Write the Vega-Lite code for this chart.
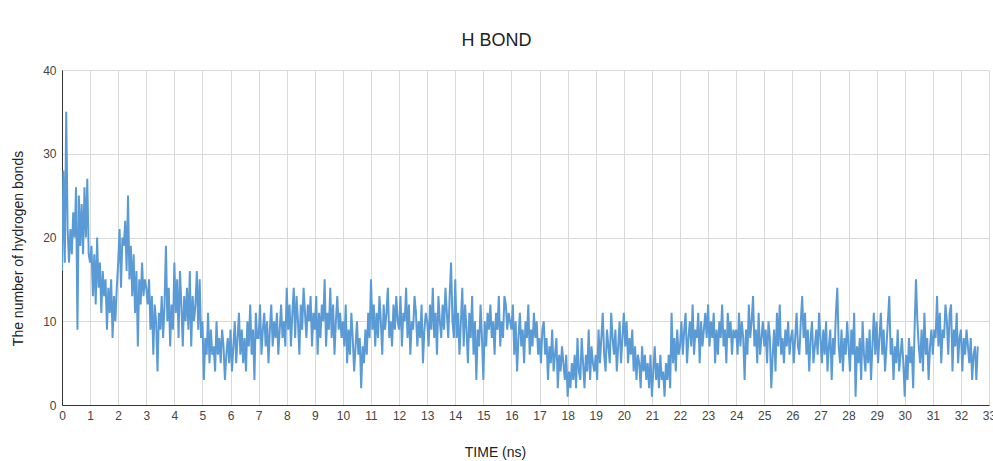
{
"$schema": "https://vega.github.io/schema/vega-lite/v6.json",
"width": 927,
"height": 335,
"autosize": "none",
"padding": {"left": 62, "top": 70, "right": 4, "bottom": 56},
"background": "white",
"title": {"text": "H BOND", "fontSize": 18, "font": "Liberation Sans", "fontWeight": "normal", "color": "#222222", "dx": -29, "offset": 14},
"config": {"view": {"stroke": null}, "font": "Liberation Sans"},
"data": {"values": [
{"t":0,"h":16},{"t":0.05,"h":28},{"t":0.1,"h":17},{"t":0.15,"h":35},{"t":0.2,"h":21},{"t":0.25,"h":17},{"t":0.3,"h":21},{"t":0.35,"h":18},{"t":0.4,"h":23},{"t":0.45,"h":20},{"t":0.5,"h":26},{"t":0.55,"h":9},{"t":0.6,"h":25},{"t":0.65,"h":19},{"t":0.7,"h":24},{"t":0.75,"h":18},{"t":0.8,"h":26},{"t":0.85,"h":20},{"t":0.9,"h":27},{"t":0.95,"h":18},
{"t":1,"h":17},{"t":1.05,"h":19},{"t":1.1,"h":13},{"t":1.15,"h":18},{"t":1.2,"h":12},{"t":1.25,"h":20},{"t":1.3,"h":14},{"t":1.35,"h":17},{"t":1.4,"h":11},{"t":1.45,"h":16},{"t":1.5,"h":13},{"t":1.55,"h":15},{"t":1.6,"h":9},{"t":1.65,"h":14},{"t":1.7,"h":11},{"t":1.75,"h":15},{"t":1.8,"h":8},{"t":1.85,"h":13},{"t":1.9,"h":10},{"t":1.95,"h":14},
{"t":2,"h":17},{"t":2.05,"h":21},{"t":2.1,"h":14},{"t":2.15,"h":20},{"t":2.2,"h":19},{"t":2.25,"h":22},{"t":2.3,"h":16},{"t":2.35,"h":25},{"t":2.4,"h":15},{"t":2.45,"h":19},{"t":2.5,"h":13},{"t":2.55,"h":18},{"t":2.6,"h":11},{"t":2.65,"h":16},{"t":2.7,"h":7},{"t":2.75,"h":15},{"t":2.8,"h":12},{"t":2.85,"h":17},{"t":2.9,"h":13},{"t":2.95,"h":15},
{"t":3,"h":14},{"t":3.05,"h":12},{"t":3.1,"h":15},{"t":3.15,"h":9},{"t":3.2,"h":13},{"t":3.25,"h":6},{"t":3.3,"h":12},{"t":3.35,"h":10},{"t":3.4,"h":4},{"t":3.45,"h":11},{"t":3.5,"h":9},{"t":3.55,"h":13},{"t":3.6,"h":8},{"t":3.65,"h":12},{"t":3.7,"h":19},{"t":3.75,"h":10},{"t":3.8,"h":14},{"t":3.85,"h":7},{"t":3.9,"h":12},{"t":3.95,"h":9},
{"t":4,"h":17},{"t":4.05,"h":11},{"t":4.1,"h":15},{"t":4.15,"h":8},{"t":4.2,"h":16},{"t":4.25,"h":12},{"t":4.3,"h":7},{"t":4.35,"h":13},{"t":4.4,"h":10},{"t":4.45,"h":14},{"t":4.5,"h":9},{"t":4.55,"h":16},{"t":4.6,"h":7},{"t":4.65,"h":13},{"t":4.7,"h":10},{"t":4.75,"h":12},{"t":4.8,"h":16},{"t":4.85,"h":9},{"t":4.9,"h":15},{"t":4.95,"h":8},
{"t":5,"h":10},{"t":5.05,"h":3},{"t":5.1,"h":8},{"t":5.15,"h":6},{"t":5.2,"h":11},{"t":5.25,"h":5},{"t":5.3,"h":9},{"t":5.35,"h":6},{"t":5.4,"h":7},{"t":5.45,"h":4},{"t":5.5,"h":10},{"t":5.55,"h":6},{"t":5.6,"h":8},{"t":5.65,"h":5},{"t":5.7,"h":9},{"t":5.75,"h":7},{"t":5.8,"h":3},{"t":5.85,"h":6},{"t":5.9,"h":8},{"t":5.95,"h":5},
{"t":6,"h":9},{"t":6.05,"h":4},{"t":6.1,"h":7},{"t":6.15,"h":10},{"t":6.2,"h":5},{"t":6.25,"h":8},{"t":6.3,"h":11},{"t":6.35,"h":6},{"t":6.4,"h":9},{"t":6.45,"h":5},{"t":6.5,"h":8},{"t":6.55,"h":4},{"t":6.6,"h":10},{"t":6.65,"h":7},{"t":6.7,"h":12},{"t":6.75,"h":6},{"t":6.8,"h":9},{"t":6.85,"h":3},{"t":6.9,"h":11},{"t":6.95,"h":8},
{"t":7,"h":8},{"t":7.05,"h":12},{"t":7.1,"h":6},{"t":7.15,"h":9},{"t":7.2,"h":11},{"t":7.25,"h":7},{"t":7.3,"h":10},{"t":7.35,"h":5},{"t":7.4,"h":9},{"t":7.45,"h":12},{"t":7.5,"h":7},{"t":7.55,"h":10},{"t":7.6,"h":8},{"t":7.65,"h":11},{"t":7.7,"h":6},{"t":7.75,"h":9},{"t":7.8,"h":12},{"t":7.85,"h":8},{"t":7.9,"h":10},{"t":7.95,"h":7},
{"t":8,"h":14},{"t":8.05,"h":9},{"t":8.1,"h":12},{"t":8.15,"h":7},{"t":8.2,"h":11},{"t":8.25,"h":14},{"t":8.3,"h":8},{"t":8.35,"h":13},{"t":8.4,"h":10},{"t":8.45,"h":6},{"t":8.5,"h":12},{"t":8.55,"h":9},{"t":8.6,"h":14},{"t":8.65,"h":11},{"t":8.7,"h":8},{"t":8.75,"h":12},{"t":8.8,"h":10},{"t":8.85,"h":13},{"t":8.9,"h":7},{"t":8.95,"h":11},
{"t":9,"h":9},{"t":9.05,"h":13},{"t":9.1,"h":6},{"t":9.15,"h":11},{"t":9.2,"h":8},{"t":9.25,"h":12},{"t":9.3,"h":10},{"t":9.35,"h":15},{"t":9.4,"h":7},{"t":9.45,"h":11},{"t":9.5,"h":9},{"t":9.55,"h":14},{"t":9.6,"h":8},{"t":9.65,"h":12},{"t":9.7,"h":6},{"t":9.75,"h":10},{"t":9.8,"h":13},{"t":9.85,"h":9},{"t":9.9,"h":11},{"t":9.95,"h":8},
{"t":10,"h":10},{"t":10.05,"h":7},{"t":10.1,"h":12},{"t":10.15,"h":5},{"t":10.2,"h":9},{"t":10.25,"h":6},{"t":10.3,"h":11},{"t":10.35,"h":8},{"t":10.4,"h":4},{"t":10.45,"h":7},{"t":10.5,"h":10},{"t":10.55,"h":6},{"t":10.6,"h":8},{"t":10.65,"h":2},{"t":10.7,"h":7},{"t":10.75,"h":5},{"t":10.8,"h":9},{"t":10.85,"h":6},{"t":10.9,"h":11},{"t":10.95,"h":8},
{"t":11,"h":15},{"t":11.05,"h":9},{"t":11.1,"h":12},{"t":11.15,"h":7},{"t":11.2,"h":11},{"t":11.25,"h":8},{"t":11.3,"h":13},{"t":11.35,"h":10},{"t":11.4,"h":6},{"t":11.45,"h":12},{"t":11.5,"h":9},{"t":11.55,"h":11},{"t":11.6,"h":14},{"t":11.65,"h":8},{"t":11.7,"h":10},{"t":11.75,"h":7},{"t":11.8,"h":12},{"t":11.85,"h":9},{"t":11.9,"h":13},{"t":11.95,"h":10},
{"t":12,"h":9},{"t":12.05,"h":13},{"t":12.1,"h":7},{"t":12.15,"h":11},{"t":12.2,"h":10},{"t":12.25,"h":14},{"t":12.3,"h":8},{"t":12.35,"h":12},{"t":12.4,"h":6},{"t":12.45,"h":10},{"t":12.5,"h":9},{"t":12.55,"h":13},{"t":12.6,"h":11},{"t":12.65,"h":7},{"t":12.7,"h":10},{"t":12.75,"h":8},{"t":12.8,"h":12},{"t":12.85,"h":5},{"t":12.9,"h":9},{"t":12.95,"h":11},
{"t":13,"h":10},{"t":13.05,"h":7},{"t":13.1,"h":12},{"t":13.15,"h":9},{"t":13.2,"h":14},{"t":13.25,"h":8},{"t":13.3,"h":11},{"t":13.35,"h":6},{"t":13.4,"h":13},{"t":13.45,"h":10},{"t":13.5,"h":8},{"t":13.55,"h":12},{"t":13.6,"h":9},{"t":13.65,"h":14},{"t":13.7,"h":11},{"t":13.75,"h":8},{"t":13.8,"h":13},{"t":13.85,"h":17},{"t":13.9,"h":10},{"t":13.95,"h":8},
{"t":14,"h":15},{"t":14.05,"h":8},{"t":14.1,"h":11},{"t":14.15,"h":6},{"t":14.2,"h":10},{"t":14.25,"h":14},{"t":14.3,"h":7},{"t":14.35,"h":12},{"t":14.4,"h":9},{"t":14.45,"h":5},{"t":14.5,"h":11},{"t":14.55,"h":8},{"t":14.6,"h":13},{"t":14.65,"h":6},{"t":14.7,"h":10},{"t":14.75,"h":3},{"t":14.8,"h":9},{"t":14.85,"h":7},{"t":14.9,"h":12},{"t":14.95,"h":8},
{"t":15,"h":3},{"t":15.05,"h":10},{"t":15.1,"h":7},{"t":15.15,"h":11},{"t":15.2,"h":9},{"t":15.25,"h":12},{"t":15.3,"h":8},{"t":15.35,"h":10},{"t":15.4,"h":6},{"t":15.45,"h":11},{"t":15.5,"h":9},{"t":15.55,"h":13},{"t":15.6,"h":7},{"t":15.65,"h":10},{"t":15.7,"h":8},{"t":15.75,"h":13},{"t":15.8,"h":12},{"t":15.85,"h":9},{"t":15.9,"h":11},{"t":15.95,"h":10},
{"t":16,"h":9},{"t":16.05,"h":12},{"t":16.1,"h":6},{"t":16.15,"h":10},{"t":16.2,"h":4},{"t":16.25,"h":8},{"t":16.3,"h":11},{"t":16.35,"h":7},{"t":16.4,"h":9},{"t":16.45,"h":5},{"t":16.5,"h":10},{"t":16.55,"h":8},{"t":16.6,"h":12},{"t":16.65,"h":6},{"t":16.7,"h":9},{"t":16.75,"h":7},{"t":16.8,"h":11},{"t":16.85,"h":8},{"t":16.9,"h":10},{"t":16.95,"h":6},
{"t":17,"h":8},{"t":17.05,"h":5},{"t":17.1,"h":9},{"t":17.15,"h":10},{"t":17.2,"h":6},{"t":17.25,"h":8},{"t":17.3,"h":3},{"t":17.35,"h":7},{"t":17.4,"h":5},{"t":17.45,"h":9},{"t":17.5,"h":4},{"t":17.55,"h":6},{"t":17.6,"h":8},{"t":17.65,"h":2},{"t":17.7,"h":6},{"t":17.75,"h":4},{"t":17.8,"h":7},{"t":17.85,"h":5},{"t":17.9,"h":3},{"t":17.95,"h":6},
{"t":18,"h":1},{"t":18.05,"h":4},{"t":18.1,"h":2},{"t":18.15,"h":5},{"t":18.2,"h":3},{"t":18.25,"h":6},{"t":18.3,"h":2},{"t":18.35,"h":8},{"t":18.4,"h":4},{"t":18.45,"h":3},{"t":18.5,"h":8},{"t":18.55,"h":5},{"t":18.6,"h":2},{"t":18.65,"h":6},{"t":18.7,"h":4},{"t":18.75,"h":9},{"t":18.8,"h":3},{"t":18.85,"h":7},{"t":18.9,"h":5},{"t":18.95,"h":4},
{"t":19,"h":6},{"t":19.05,"h":3},{"t":19.1,"h":9},{"t":19.15,"h":5},{"t":19.2,"h":8},{"t":19.25,"h":11},{"t":19.3,"h":6},{"t":19.35,"h":4},{"t":19.4,"h":9},{"t":19.45,"h":7},{"t":19.5,"h":5},{"t":19.55,"h":11},{"t":19.6,"h":8},{"t":19.65,"h":6},{"t":19.7,"h":9},{"t":19.75,"h":4},{"t":19.8,"h":7},{"t":19.85,"h":10},{"t":19.9,"h":5},{"t":19.95,"h":8},
{"t":20,"h":11},{"t":20.05,"h":7},{"t":20.1,"h":10},{"t":20.15,"h":5},{"t":20.2,"h":8},{"t":20.25,"h":6},{"t":20.3,"h":9},{"t":20.35,"h":4},{"t":20.4,"h":7},{"t":20.45,"h":3},{"t":20.5,"h":6},{"t":20.55,"h":5},{"t":20.6,"h":2},{"t":20.65,"h":7},{"t":20.7,"h":4},{"t":20.75,"h":6},{"t":20.8,"h":3},{"t":20.85,"h":5},{"t":20.9,"h":2},{"t":20.95,"h":6},
{"t":21,"h":1},{"t":21.05,"h":4},{"t":21.1,"h":7},{"t":21.15,"h":3},{"t":21.2,"h":5},{"t":21.25,"h":2},{"t":21.3,"h":6},{"t":21.35,"h":3},{"t":21.4,"h":4},{"t":21.45,"h":1},{"t":21.5,"h":5},{"t":21.55,"h":3},{"t":21.6,"h":6},{"t":21.65,"h":2},{"t":21.7,"h":11},{"t":21.75,"h":5},{"t":21.8,"h":8},{"t":21.85,"h":4},{"t":21.9,"h":9},{"t":21.95,"h":6},
{"t":22,"h":7},{"t":22.05,"h":10},{"t":22.1,"h":6},{"t":22.15,"h":9},{"t":22.2,"h":11},{"t":22.25,"h":5},{"t":22.3,"h":8},{"t":22.35,"h":10},{"t":22.4,"h":7},{"t":22.45,"h":12},{"t":22.5,"h":6},{"t":22.55,"h":9},{"t":22.6,"h":8},{"t":22.65,"h":11},{"t":22.7,"h":5},{"t":22.75,"h":10},{"t":22.8,"h":7},{"t":22.85,"h":9},{"t":22.9,"h":11},{"t":22.95,"h":8},
{"t":23,"h":12},{"t":23.05,"h":7},{"t":23.1,"h":10},{"t":23.15,"h":8},{"t":23.2,"h":11},{"t":23.25,"h":5},{"t":23.3,"h":9},{"t":23.35,"h":6},{"t":23.4,"h":10},{"t":23.45,"h":8},{"t":23.5,"h":12},{"t":23.55,"h":7},{"t":23.6,"h":9},{"t":23.65,"h":5},{"t":23.7,"h":11},{"t":23.75,"h":8},{"t":23.8,"h":10},{"t":23.85,"h":6},{"t":23.9,"h":9},{"t":23.95,"h":8},
{"t":24,"h":9},{"t":24.05,"h":6},{"t":24.1,"h":11},{"t":24.15,"h":7},{"t":24.2,"h":10},{"t":24.25,"h":8},{"t":24.3,"h":3},{"t":24.35,"h":9},{"t":24.4,"h":6},{"t":24.45,"h":12},{"t":24.5,"h":8},{"t":24.55,"h":10},{"t":24.6,"h":13},{"t":24.65,"h":7},{"t":24.7,"h":9},{"t":24.75,"h":5},{"t":24.8,"h":11},{"t":24.85,"h":6},{"t":24.9,"h":8},{"t":24.95,"h":10},
{"t":25,"h":7},{"t":25.05,"h":9},{"t":25.1,"h":5},{"t":25.15,"h":10},{"t":25.2,"h":8},{"t":25.25,"h":2},{"t":25.3,"h":6},{"t":25.35,"h":9},{"t":25.4,"h":4},{"t":25.45,"h":11},{"t":25.5,"h":7},{"t":25.55,"h":12},{"t":25.6,"h":6},{"t":25.65,"h":8},{"t":25.7,"h":5},{"t":25.75,"h":9},{"t":25.8,"h":7},{"t":25.85,"h":10},{"t":25.9,"h":6},{"t":25.95,"h":8},
{"t":26,"h":9},{"t":26.05,"h":5},{"t":26.1,"h":8},{"t":26.15,"h":11},{"t":26.2,"h":7},{"t":26.25,"h":6},{"t":26.3,"h":10},{"t":26.35,"h":13},{"t":26.4,"h":8},{"t":26.45,"h":11},{"t":26.5,"h":6},{"t":26.55,"h":9},{"t":26.6,"h":4},{"t":26.65,"h":8},{"t":26.7,"h":10},{"t":26.75,"h":5},{"t":26.8,"h":7},{"t":26.85,"h":9},{"t":26.9,"h":6},{"t":26.95,"h":11},
{"t":27,"h":8},{"t":27.05,"h":5},{"t":27.1,"h":9},{"t":27.15,"h":6},{"t":27.2,"h":10},{"t":27.25,"h":4},{"t":27.3,"h":7},{"t":27.35,"h":9},{"t":27.4,"h":3},{"t":27.45,"h":8},{"t":27.5,"h":6},{"t":27.55,"h":11},{"t":27.6,"h":14},{"t":27.65,"h":7},{"t":27.7,"h":5},{"t":27.75,"h":9},{"t":27.8,"h":4},{"t":27.85,"h":8},{"t":27.9,"h":6},{"t":27.95,"h":10},
{"t":28,"h":7},{"t":28.05,"h":4},{"t":28.1,"h":9},{"t":28.15,"h":6},{"t":28.2,"h":11},{"t":28.25,"h":1},{"t":28.3,"h":7},{"t":28.35,"h":5},{"t":28.4,"h":8},{"t":28.45,"h":3},{"t":28.5,"h":10},{"t":28.55,"h":6},{"t":28.6,"h":4},{"t":28.65,"h":8},{"t":28.7,"h":5},{"t":28.75,"h":9},{"t":28.8,"h":3},{"t":28.85,"h":7},{"t":28.9,"h":11},{"t":28.95,"h":6},
{"t":29,"h":10},{"t":29.05,"h":5},{"t":29.1,"h":8},{"t":29.15,"h":11},{"t":29.2,"h":6},{"t":29.25,"h":9},{"t":29.3,"h":4},{"t":29.35,"h":7},{"t":29.4,"h":10},{"t":29.45,"h":13},{"t":29.5,"h":6},{"t":29.55,"h":8},{"t":29.6,"h":3},{"t":29.65,"h":7},{"t":29.7,"h":5},{"t":29.75,"h":9},{"t":29.8,"h":4},{"t":29.85,"h":6},{"t":29.9,"h":8},{"t":29.95,"h":5},
{"t":30,"h":1},{"t":30.05,"h":6},{"t":30.1,"h":3},{"t":30.15,"h":8},{"t":30.2,"h":5},{"t":30.25,"h":7},{"t":30.3,"h":2},{"t":30.35,"h":9},{"t":30.4,"h":15},{"t":30.45,"h":10},{"t":30.5,"h":7},{"t":30.55,"h":5},{"t":30.6,"h":9},{"t":30.65,"h":4},{"t":30.7,"h":11},{"t":30.75,"h":6},{"t":30.8,"h":8},{"t":30.85,"h":3},{"t":30.9,"h":7},{"t":30.95,"h":9},
{"t":31,"h":6},{"t":31.05,"h":9},{"t":31.1,"h":8},{"t":31.15,"h":13},{"t":31.2,"h":7},{"t":31.25,"h":11},{"t":31.3,"h":5},{"t":31.35,"h":9},{"t":31.4,"h":8},{"t":31.45,"h":12},{"t":31.5,"h":10},{"t":31.55,"h":6},{"t":31.6,"h":11},{"t":31.65,"h":12},{"t":31.7,"h":4},{"t":31.75,"h":9},{"t":31.8,"h":7},{"t":31.85,"h":11},{"t":31.9,"h":5},{"t":31.95,"h":8},
{"t":32,"h":9},{"t":32.05,"h":4},{"t":32.1,"h":8},{"t":32.15,"h":6},{"t":32.2,"h":9},{"t":32.25,"h":7},{"t":32.3,"h":5},{"t":32.35,"h":8},{"t":32.4,"h":3},{"t":32.45,"h":6},{"t":32.5,"h":7},{"t":32.55,"h":3},{"t":32.6,"h":7}
]},
"mark": {"type": "line", "color": "#5b9bd5", "strokeWidth": 2, "clip": true},
"encoding": {
"x": {"field": "t", "type": "quantitative", "scale": {"domain": [0, 33], "nice": false, "zero": false},
"axis": {"title": "TIME (ns)", "values": [0,1,2,3,4,5,6,7,8,9,10,11,12,13,14,15,16,17,18,19,20,21,22,23,24,25,26,27,28,29,30,31,32,33], "format": "d", "labelFlush": false, "labelOverlap": false, "ticks": false, "labelPadding": 5, "labelFontSize": 12, "labelColor": "#444444", "labelFont": "Liberation Sans", "domainColor": "#333333", "gridColor": "#d9d9d9", "titleFontSize": 14, "titleFontWeight": "normal", "titleColor": "#222222", "titleFont": "Liberation Sans", "titleX": 433, "titleY": 47, "titleBaseline": "middle", "titleAnchor": "middle"}},
"y": {"field": "h", "type": "quantitative", "scale": {"domain": [0, 40], "nice": false},
"axis": {"title": "The number of hydrogen bonds", "values": [0,10,20,30,40], "ticks": false, "labelPadding": 6, "labelFontSize": 12, "labelColor": "#444444", "labelFont": "Liberation Sans", "domainColor": "#333333", "gridColor": "#d9d9d9", "titleFontSize": 14, "titleFontWeight": "normal", "titleColor": "#222222", "titleFont": "Liberation Sans", "titleX": -44, "titleY": 178, "titleBaseline": "middle", "titleAnchor": "middle"}}
}
}
